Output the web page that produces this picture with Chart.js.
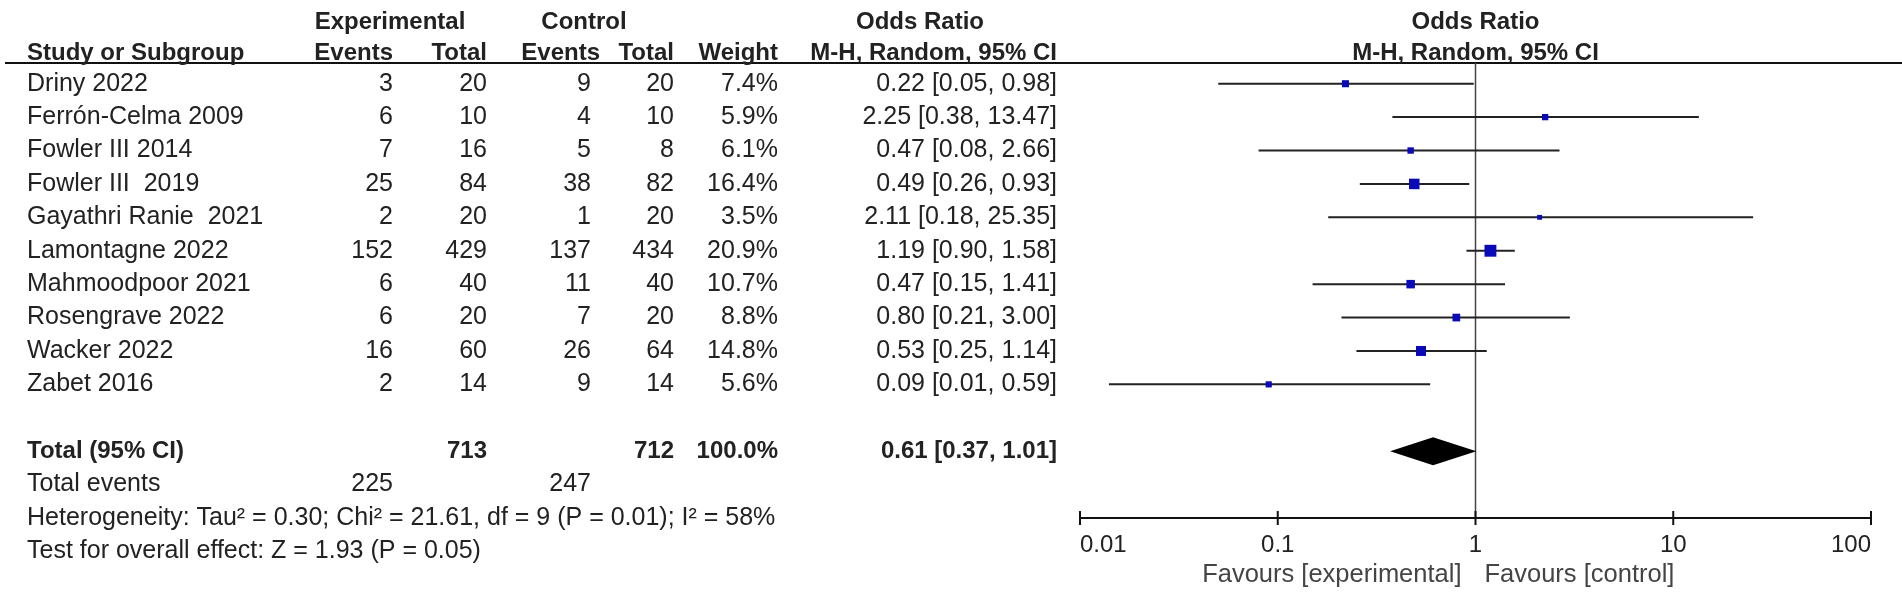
<!DOCTYPE html>
<html>
<head>
<meta charset="utf-8">
<script src="https://cdn.jsdelivr.net/npm/chart.js@4.4.1/dist/chart.umd.min.js"></script>
<style>
html,body{margin:0;padding:0;background:#fff;}
#wrap{width:1902px;height:599px;position:relative;}
</style>
</head>
<body>
<div id="wrap"><canvas id="c" width="1902" height="599"></canvas></div>
<script>
// ---- data ----
const studies = ['Driny 2022','Ferrón-Celma 2009','Fowler III 2014','Fowler III  2019','Gayathri Ranie  2021','Lamontagne 2022','Mahmoodpoor 2021','Rosengrave 2022','Wacker 2022','Zabet 2016'];
const expEvents = [3,6,7,25,2,152,6,6,16,2];
const expTotal = [20,10,16,84,20,429,40,20,60,14];
const ctrlEvents = [9,4,5,38,1,137,11,7,26,9];
const ctrlTotal = [20,10,8,82,20,434,40,20,64,14];
const weights = [7.4,5.9,6.1,16.4,3.5,20.9,10.7,8.8,14.8,5.6];
const oddsRatio = [0.22,2.25,0.47,0.49,2.11,1.19,0.47,0.80,0.53,0.09];
const ciLower = [0.05,0.38,0.08,0.26,0.18,0.90,0.15,0.21,0.25,0.014];
const ciUpper = [0.98,13.47,2.66,0.93,25.35,1.58,1.41,3.00,1.14,0.59];
const pooledOR = [0.61];
const pooledLower = [0.37];
const pooledUpper = [1.01];
const sumExpTotal = [713];
const sumCtrlTotal = [712];
const sumWeight = [100.0];
const sumExpEvents = [225];
const sumCtrlEvents = [247];
const xTicks = [0.01,0.1,1,10,100];
const xTickLabels = ['0.01','0.1','1','10','100'];
const heterogeneityText = 'Heterogeneity: Tau² = 0.30; Chi² = 21.61, df = 9 (P = 0.01); I² = 58%';
const overallText = 'Test for overall effect: Z = 1.93 (P = 0.05)';
const favourLeft = 'Favours [experimental]';
const favourRight = 'Favours [control]';

const FONT = '"Liberation Sans", Arial, sans-serif';
const FS = 25;      // regular text
const FB = 24;      // bold header text
const TXT = '#222';
const LEFT = 27;

function txt(ctx, s, x, y, align, bold, color, size){
  ctx.save();
  ctx.font = (bold ? 'bold ' : '') + (size || (bold ? FB : FS)) + 'px ' + FONT;
  ctx.fillStyle = color || TXT;
  ctx.textAlign = align || 'left';
  ctx.textBaseline = 'middle';
  ctx.fillText(s, x, y);
  ctx.restore();
}

const forestPlugin = {
  id: 'forest',
  beforeDatasetsDraw(chart){
    const ctx = chart.ctx, xs = chart.scales.x, ys = chart.scales.y, ca = chart.chartArea;
    ctx.save();
    // header underline
    const yLine = ca.top;
    ctx.strokeStyle = '#111'; ctx.lineWidth = 2;
    ctx.beginPath(); ctx.moveTo(5, yLine); ctx.lineTo(chart.width, yLine); ctx.stroke();
    // line of no effect
    const x1 = xs.getPixelForValue(1);
    ctx.strokeStyle = '#444'; ctx.lineWidth = 1.5;
    ctx.beginPath(); ctx.moveTo(x1, ca.top); ctx.lineTo(x1, ca.bottom); ctx.stroke();
    // CI whiskers
    ctx.strokeStyle = '#222'; ctx.lineWidth = 2;
    for (let i = 0; i < studies.length; i++){
      const y = ys.getPixelForValue(i);
      ctx.beginPath();
      ctx.moveTo(xs.getPixelForValue(ciLower[i]), y);
      ctx.lineTo(xs.getPixelForValue(ciUpper[i]), y);
      ctx.stroke();
    }
    // pooled diamond
    const yd = ys.getPixelForValue(11);
    const half = ys.getPixelForValue(11.42) - yd;
    ctx.fillStyle = '#000';
    ctx.beginPath();
    ctx.moveTo(xs.getPixelForValue(pooledLower[0]), yd);
    ctx.lineTo(xs.getPixelForValue(pooledOR[0]), yd - half);
    ctx.lineTo(xs.getPixelForValue(pooledUpper[0]), yd);
    ctx.lineTo(xs.getPixelForValue(pooledOR[0]), yd + half);
    ctx.closePath(); ctx.fill();
    // x axis
    ctx.strokeStyle = '#111'; ctx.lineWidth = 2;
    ctx.beginPath(); ctx.moveTo(xs.getPixelForValue(xTicks[0]), ca.bottom); ctx.lineTo(xs.getPixelForValue(xTicks[xTicks.length-1]), ca.bottom); ctx.stroke();
    xTicks.forEach((t, k) => {
      const px = xs.getPixelForValue(t);
      ctx.beginPath(); ctx.moveTo(px, ca.bottom - 7); ctx.lineTo(px, ca.bottom + 7); ctx.stroke();
      const align = k === 0 ? 'left' : (k === xTicks.length-1 ? 'right' : 'center');
      txt(ctx, xTickLabels[k], px, ca.bottom + 27, align, false, TXT, 24);
    });
    txt(ctx, favourLeft, x1 - 14, ca.bottom + 57, 'right', false, '#444', 25.5);
    txt(ctx, favourRight, x1 + 9, ca.bottom + 57, 'left', false, '#444', 25.5);
    ctx.restore();
  },
  afterDraw(chart){
    const ctx = chart.ctx, xs = chart.scales.x, ys = chart.scales.y;
    const r1 = ys.getPixelForValue(-1.85), r2 = ys.getPixelForValue(-0.92);
    // headers
    txt(ctx, 'Experimental', 390, r1, 'center', true);
    txt(ctx, 'Control', 584, r1, 'center', true);
    txt(ctx, 'Odds Ratio', 920, r1, 'center', true);
    txt(ctx, 'Odds Ratio', xs.getPixelForValue(1), r1, 'center', true);
    txt(ctx, 'Study or Subgroup', LEFT, r2, 'left', true);
    txt(ctx, 'Events', 393, r2, 'right', true);
    txt(ctx, 'Total', 487, r2, 'right', true);
    txt(ctx, 'Events', 600, r2, 'right', true);
    txt(ctx, 'Total', 674, r2, 'right', true);
    txt(ctx, 'Weight', 778, r2, 'right', true);
    txt(ctx, 'M-H, Random, 95% CI', 1057, r2, 'right', true);
    txt(ctx, 'M-H, Random, 95% CI', xs.getPixelForValue(1), r2, 'center', true);
    // study rows
    for (let i = 0; i < studies.length; i++){
      const y = ys.getPixelForValue(i);
      txt(ctx, studies[i], LEFT, y, 'left');
      txt(ctx, String(expEvents[i]), 393, y, 'right');
      txt(ctx, String(expTotal[i]), 487, y, 'right');
      txt(ctx, String(ctrlEvents[i]), 591, y, 'right');
      txt(ctx, String(ctrlTotal[i]), 674, y, 'right');
      txt(ctx, weights[i].toFixed(1) + '%', 778, y, 'right');
      txt(ctx, oddsRatio[i].toFixed(2) + ' [' + ciLower[i].toFixed(2) + ', ' + ciUpper[i].toFixed(2) + ']', 1057, y, 'right');
    }
    // totals
    const yt = ys.getPixelForValue(11);
    txt(ctx, 'Total (95% CI)', LEFT, yt, 'left', true);
    txt(ctx, String(sumExpTotal[0]), 487, yt, 'right', true);
    txt(ctx, String(sumCtrlTotal[0]), 674, yt, 'right', true);
    txt(ctx, sumWeight[0].toFixed(1) + '%', 778, yt, 'right', true);
    txt(ctx, pooledOR[0].toFixed(2) + ' [' + pooledLower[0].toFixed(2) + ', ' + pooledUpper[0].toFixed(2) + ']', 1057, yt, 'right', true);
    const ye = ys.getPixelForValue(12);
    txt(ctx, 'Total events', LEFT, ye, 'left');
    txt(ctx, String(sumExpEvents[0]), 393, ye, 'right');
    txt(ctx, String(sumCtrlEvents[0]), 591, ye, 'right');
    txt(ctx, heterogeneityText, LEFT, ys.getPixelForValue(13), 'left');
    txt(ctx, overallText, LEFT, ys.getPixelForValue(14), 'left');
  }
};

const chart = new Chart(document.getElementById('c'), {
  type: 'scatter',
  data: {
    datasets: [{
      label: 'Studies',
      data: oddsRatio.map((v, i) => ({x: v, y: i})),
      pointStyle: 'rect',
      backgroundColor: '#0a0ab8',
      borderColor: '#0a0ab8',
      borderWidth: 0,
      pointRadius: (c) => (2.6 * Math.sqrt(weights[c.dataIndex] || 1)) / Math.SQRT2,
      pointHoverRadius: (c) => (2.6 * Math.sqrt(weights[c.dataIndex] || 1)) / Math.SQRT2
    }]
  },
  options: {
    responsive: false,
    devicePixelRatio: 1,
    animation: false,
    events: [],
    layout: { padding: { left: 1080, right: 31, top: 63, bottom: 81 } },
    plugins: { legend: { display: false }, tooltip: { enabled: false } },
    scales: {
      x: { type: 'logarithmic', min: xTicks[0], max: xTicks[xTicks.length-1], display: false,
           afterBuildTicks: (s) => { s.ticks = xTicks.map(v => ({value: v})); } },
      y: { type: 'linear', min: -0.62, max: 13.0, reverse: true, display: false }
    }
  },
  plugins: [forestPlugin]
});
</script>
</body>
</html>
